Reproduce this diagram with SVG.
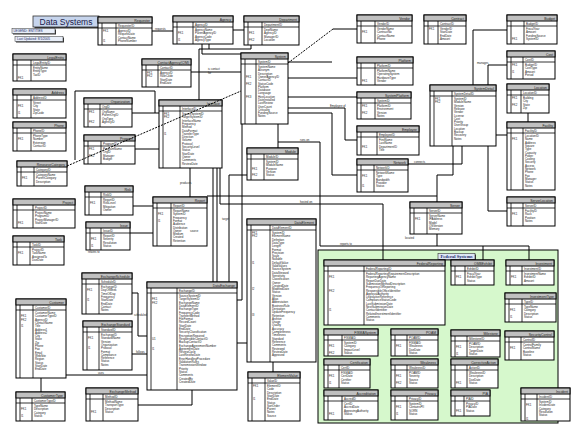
<svg xmlns="http://www.w3.org/2000/svg" width="581" height="436" viewBox="0 0 581 436">
<style>
.b{fill:#fff;stroke:#000;stroke-width:1}
.h{fill:#c0c0c0;stroke:#000;stroke-width:1}
.l{fill:none;stroke:#000;stroke-width:.8}
text{font-family:"Liberation Sans",Arial,sans-serif;fill:#222}
.tt{font-size:3.4px;text-anchor:end}
.a{font-size:2.9px}
.lb{font-size:2.8px}
.c path{fill:none;stroke:#000;stroke-width:1}
.c .d{stroke-dasharray:2 1.2}
</style>
<rect width="581" height="436" fill="#fff"/>
<g id="federal-systems">
<rect x="318" y="250" width="240" height="173" fill="#d6f8cc" stroke="#000" stroke-width="1"/>
<rect x="439" y="254.5" width="37" height="6" fill="#333"/>
<rect x="438" y="253.5" width="37" height="6" fill="#dde6f4" stroke="#333" stroke-width=".6"/>
<text x="456.5" y="258.4" style="font-family:'Liberation Serif',serif;font-size:4.6px;font-weight:bold;text-anchor:middle;fill:#1a2a6a">Federal Systems</text>
</g>
<g id="title">
<rect x="34.5" y="17.5" width="66" height="11" fill="#333"/>
<rect x="33" y="16" width="66" height="11" fill="#c6d4ec" stroke="#333" stroke-width=".8"/>
<text x="66" y="24.6" style="font-size:8.5px;text-anchor:middle;fill:#1a1a4a">Data Systems</text>
<rect x="13" y="29.5" width="43" height="5" fill="#333"/>
<rect x="12" y="28.5" width="43" height="5" fill="#e8eef8" stroke="#333" stroke-width=".5"/>
<text x="13.5" y="32.3" style="font-size:3.2px;fill:#1a2a6a">LEGEND:  ENTITIES</text>
<rect x="16" y="37.5" width="48" height="5" fill="#333"/>
<rect x="15" y="36.5" width="48" height="5" fill="#e8eef8" stroke="#333" stroke-width=".5"/>
<text x="17" y="40.3" style="font-size:3.2px;fill:#1a2a6a">Last Updated:  8/1/2005</text>
</g>

<g id="t1"><rect class="b" x="98" y="17" width="54" height="28"/><rect class="h" x="98" y="17" width="54" height="6"/><path class="l" d="M102 23V45M116 23V45M98 28H152"/><text class="tt" x="150" y="21.6">Requester</text><text class="a" x="118" y="26.6">RequesterID</text><text class="a" y="32"><tspan x="118">AgencyID</tspan><tspan x="118" dy="3.3">RequestDate</tspan><tspan x="118" dy="3.3">ContactName</tspan><tspan x="118" dy="3.3">PhoneNumber</tspan></text><text class="a" x="103" y="32">FK1</text><text class="a" x="103" y="42">I1</text></g>
<g id="t2"><rect class="b" x="173" y="16" width="60" height="28"/><rect class="h" x="173" y="16" width="60" height="6"/><path class="l" d="M177 22V44M193 22V44M173 27H233"/><text class="tt" x="231" y="20.6">Agency</text><text class="a" x="195" y="25.6">AgencyID</text><text class="a" y="31"><tspan x="195">AgencyName</tspan><tspan x="195" dy="3.3">ParentAgencyID</tspan><tspan x="195" dy="3.3">AgencyCode</tspan><tspan x="195" dy="3.3">AgencyType</tspan></text><text class="a" x="178" y="34.3">FK1</text><text class="a" x="178" y="41">I1</text></g>
<g id="t3"><rect class="b" x="244" y="16" width="55" height="29"/><rect class="h" x="244" y="16" width="55" height="6"/><path class="l" d="M248 22V45M262 22V45M244 27H299"/><text class="tt" x="297" y="20.6">Department</text><text class="a" x="264" y="25.6">DepartmentID</text><text class="a" y="31"><tspan x="264">DeptName</tspan><tspan x="264" dy="3.3">AgencyID</tspan><tspan x="264" dy="3.3">ManagerID</tspan><tspan x="264" dy="3.3">Location</tspan></text><text class="a" x="249" y="34.3">FK1</text><text class="a" x="249" y="41">FK2</text></g>
<g id="t4"><rect class="b" x="241" y="53" width="47" height="71"/><rect class="h" x="241" y="53" width="47" height="6"/><path class="l" d="M245 59V124M256 59V124M241 64H288"/><text class="tt" x="286" y="57.6">System</text><text class="a" x="258" y="62.6">SystemID</text><text class="a" y="68"><tspan x="258">SystemName</tspan><tspan x="258" dy="3.3">Acronym</tspan><tspan x="258" dy="3.3">Description</tspan><tspan x="258" dy="3.3">OwnerAgencyID</tspan><tspan x="258" dy="3.3">ContactID</tspan><tspan x="258" dy="3.3">StatusCode</tspan><tspan x="258" dy="3.3">Platform</tspan><tspan x="258" dy="3.3">Database</tspan><tspan x="258" dy="3.3">Language</tspan><tspan x="258" dy="3.3">HostLocation</tspan><tspan x="258" dy="3.3">DateInstalled</tspan><tspan x="258" dy="3.3">LastReview</tspan><tspan x="258" dy="3.3">UserCount</tspan><tspan x="258" dy="3.3">Criticality</tspan><tspan x="258" dy="3.3">FundingSource</tspan><tspan x="258" dy="3.3">Notes</tspan></text><text class="a" x="246" y="78">FK1</text><text class="a" x="246" y="84.6">FK2</text><text class="a" x="246" y="98">FK3</text></g>
<g id="t5"><rect class="b" x="142" y="59" width="49" height="28"/><rect class="h" x="142" y="59" width="49" height="6"/><path class="l" d="M146 65V87M158 65V87M142 70H191"/><text class="tt" x="189" y="63.6">ContactAgency(C/M)</text><text class="a" x="160" y="68.6">ContactID</text><text class="a" y="74"><tspan x="160">AgencyID</tspan><tspan x="160" dy="3.3">RoleCode</tspan><tspan x="160" dy="3.3">StartDate</tspan><tspan x="160" dy="3.3">EndDate</tspan></text><text class="a" x="147" y="74">FK1</text><text class="a" x="147" y="77.3">FK2</text></g>
<g id="t6"><rect class="b" x="159" y="100" width="63" height="68"/><rect class="h" x="159" y="100" width="63" height="6"/><path class="l" d="M163 106V168M180 106V168M159 111H222"/><text class="tt" x="220" y="104.6">Interface</text><text class="a" x="182" y="109.6">InterfaceID</text><text class="a" y="115"><tspan x="182">SourceSystemID</tspan><tspan x="182" dy="3.3">TargetSystemID</tspan><tspan x="182" dy="3.3">InterfaceName</tspan><tspan x="182" dy="3.3">Frequency</tspan><tspan x="182" dy="3.3">Method</tspan><tspan x="182" dy="3.3">DataFormat</tspan><tspan x="182" dy="3.3">TransferType</tspan><tspan x="182" dy="3.3">Direction</tspan><tspan x="182" dy="3.3">Volume</tspan><tspan x="182" dy="3.3">Protocol</tspan><tspan x="182" dy="3.3">SecurityLevel</tspan><tspan x="182" dy="3.3">Status</tspan><tspan x="182" dy="3.3">StartDate</tspan><tspan x="182" dy="3.3">Owner</tspan><tspan x="182" dy="3.3">Comments</tspan><tspan x="182" dy="3.3">ReviewDate</tspan></text><text class="a" x="164" y="115">FK1</text><text class="a" x="164" y="118.3">FK2</text><text class="a" x="164" y="135">I1</text></g>
<g id="t7"><rect class="b" x="357" y="15" width="55" height="28"/><rect class="h" x="357" y="15" width="55" height="6"/><path class="l" d="M361 21V43M375 21V43M357 26H412"/><text class="tt" x="410" y="19.6">Vendor</text><text class="a" x="377" y="24.6">VendorID</text><text class="a" y="30"><tspan x="377">VendorName</tspan><tspan x="377" dy="3.3">ContractNo</tspan><tspan x="377" dy="3.3">ContactName</tspan><tspan x="377" dy="3.3">Phone</tspan></text><text class="a" x="362" y="33.3">FK1</text></g>
<g id="t8"><rect class="b" x="424" y="15" width="42" height="29"/><rect class="h" x="424" y="15" width="42" height="6"/><path class="l" d="M428 21V44M438 21V44M424 26H466"/><text class="tt" x="464" y="19.6">Contract</text><text class="a" x="440" y="24.6">ContractID</text><text class="a" y="30"><tspan x="440">VendorID</tspan><tspan x="440" dy="3.3">StartDate</tspan><tspan x="440" dy="3.3">EndDate</tspan><tspan x="440" dy="3.3">Amount</tspan></text><text class="a" x="429" y="30">FK1</text></g>
<g id="t9"><rect class="b" x="357" y="57" width="56" height="28"/><rect class="h" x="357" y="57" width="56" height="6"/><path class="l" d="M361 63V85M375 63V85M357 68H413"/><text class="tt" x="411" y="61.6">Platform</text><text class="a" x="377" y="66.6">PlatformID</text><text class="a" y="72"><tspan x="377">PlatformName</tspan><tspan x="377" dy="3.3">OperatingSystem</tspan><tspan x="377" dy="3.3">HardwareType</tspan><tspan x="377" dy="3.3">Vendor</tspan></text><text class="a" x="362" y="82">FK1</text></g>
<g id="t10"><rect class="b" x="357" y="92" width="54" height="27"/><rect class="h" x="357" y="92" width="54" height="6"/><path class="l" d="M361 98V119M375 98V119M357 103H411"/><text class="tt" x="409" y="96.6">SystemPlatform</text><text class="a" x="377" y="101.6">SystemID</text><text class="a" y="107"><tspan x="377">PlatformID</tspan><tspan x="377" dy="3.3">Environment</tspan><tspan x="377" dy="3.3">Version</tspan><tspan x="377" dy="3.3">Notes</tspan></text><text class="a" x="362" y="107">FK1</text><text class="a" x="362" y="113.6">FK2</text></g>
<g id="t11"><rect class="b" x="357" y="126" width="62" height="29"/><rect class="h" x="357" y="126" width="62" height="6"/><path class="l" d="M361 132V155M377 132V155M357 137H419"/><text class="tt" x="417" y="130.6">Employee</text><text class="a" x="379" y="135.6">EmployeeID</text><text class="a" y="141"><tspan x="379">FirstName</tspan><tspan x="379" dy="3.3">LastName</tspan><tspan x="379" dy="3.3">DepartmentID</tspan><tspan x="379" dy="3.3">Title</tspan></text><text class="a" x="362" y="147.6">FK1</text></g>
<g id="t12"><rect class="b" x="430" y="85" width="66" height="61"/><rect class="h" x="430" y="85" width="66" height="6"/><path class="l" d="M434 91V146M452 91V146M430 96H496"/><text class="tt" x="494" y="89.6">SystemDetail</text><text class="a" x="454" y="94.6">SystemDetailID</text><text class="a" y="100"><tspan x="454">SystemID</tspan><tspan x="454" dy="3.3">ModuleName</tspan><tspan x="454" dy="3.3">Version</tspan><tspan x="454" dy="3.3">Release</tspan><tspan x="454" dy="3.3">Vendor</tspan><tspan x="454" dy="3.3">License</tspan><tspan x="454" dy="3.3">Cost</tspan><tspan x="454" dy="3.3">Priority</tspan><tspan x="454" dy="3.3">UserGroup</tspan><tspan x="454" dy="3.3">Location</tspan><tspan x="454" dy="3.3">Backup</tspan><tspan x="454" dy="3.3">Recovery</tspan><tspan x="454" dy="3.3">Notes</tspan></text><text class="a" x="435" y="100">FK1</text><text class="a" x="435" y="103.3">FK2</text></g>
<g id="t13"><rect class="b" x="507" y="15" width="50" height="29"/><rect class="h" x="507" y="15" width="50" height="6"/><path class="l" d="M511 21V44M524 21V44M507 26H557"/><text class="tt" x="555" y="19.6">Budget</text><text class="a" x="526" y="24.6">BudgetID</text><text class="a" y="30"><tspan x="526">FiscalYear</tspan><tspan x="526" dy="3.3">Amount</tspan><tspan x="526" dy="3.3">FundingSource</tspan><tspan x="526" dy="3.3">SystemID</tspan></text><text class="a" x="512" y="40">FK1</text></g>
<g id="t14"><rect class="b" x="507" y="51" width="48" height="28"/><rect class="h" x="507" y="51" width="48" height="6"/><path class="l" d="M511 57V79M523 57V79M507 62H555"/><text class="tt" x="553" y="55.6">Cost</text><text class="a" x="525" y="60.6">CostID</text><text class="a" y="66"><tspan x="525">BudgetID</tspan><tspan x="525" dy="3.3">CostType</tspan><tspan x="525" dy="3.3">Amount</tspan><tspan x="525" dy="3.3">Period</tspan></text><text class="a" x="512" y="66">FK1</text><text class="a" x="512" y="72.6">I1</text></g>
<g id="t15"><rect class="b" x="507" y="84" width="42" height="29"/><rect class="h" x="507" y="84" width="42" height="6"/><path class="l" d="M511 90V113M521 90V113M507 95H549"/><text class="tt" x="547" y="88.6">Location</text><text class="a" x="523" y="93.6">LocationID</text><text class="a" y="99"><tspan x="523">Building</tspan><tspan x="523" dy="3.3">City</tspan><tspan x="523" dy="3.3">State</tspan><tspan x="523" dy="3.3">Zip</tspan></text><text class="a" x="512" y="99">FK1</text><text class="a" x="512" y="105.6">FK2</text></g>
<g id="t16"><rect class="b" x="507" y="122" width="48" height="68"/><rect class="h" x="507" y="122" width="48" height="6"/><path class="l" d="M511 128V190M523 128V190M507 133H555"/><text class="tt" x="553" y="126.6">Facility</text><text class="a" x="525" y="131.6">FacilityID</text><text class="a" y="137"><tspan x="525">LocationID</tspan><tspan x="525" dy="3.3">Name</tspan><tspan x="525" dy="3.3">Address</tspan><tspan x="525" dy="3.3">Square</tspan><tspan x="525" dy="3.3">Type</tspan><tspan x="525" dy="3.3">Capacity</tspan><tspan x="525" dy="3.3">Power</tspan><tspan x="525" dy="3.3">Cooling</tspan><tspan x="525" dy="3.3">Security</tspan><tspan x="525" dy="3.3">Access</tspan><tspan x="525" dy="3.3">Network</tspan><tspan x="525" dy="3.3">Phone</tspan><tspan x="525" dy="3.3">Fax</tspan><tspan x="525" dy="3.3">Manager</tspan><tspan x="525" dy="3.3">Status</tspan><tspan x="525" dy="3.3">Notes</tspan></text><text class="a" x="512" y="140.3">FK1</text></g>
<g id="t17"><rect class="b" x="507" y="197" width="48" height="29"/><rect class="h" x="507" y="197" width="48" height="6"/><path class="l" d="M511 203V226M523 203V226M507 208H555"/><text class="tt" x="553" y="201.6">ServerLocation</text><text class="a" x="525" y="206.6">ServerID</text><text class="a" y="212"><tspan x="525">FacilityID</tspan><tspan x="525" dy="3.3">Rack</tspan><tspan x="525" dy="3.3">Position</tspan><tspan x="525" dy="3.3">Notes</tspan></text><text class="a" x="512" y="215.3">FK1</text></g>
<g id="t18"><rect class="b" x="410" y="202" width="52" height="32"/><rect class="h" x="410" y="202" width="52" height="6"/><path class="l" d="M414 208V234M427 208V234M410 213H462"/><text class="tt" x="460" y="206.6">Server</text><text class="a" x="429" y="211.6">ServerID</text><text class="a" y="217"><tspan x="429">ServerName</tspan><tspan x="429" dy="3.3">IPAddress</tspan><tspan x="429" dy="3.3">Model</tspan><tspan x="429" dy="3.3">OSVersion</tspan><tspan x="429" dy="3.3">Memory</tspan></text><text class="a" x="415" y="220.3">FK1</text></g>
<g id="t19"><rect class="b" x="357" y="159" width="51" height="33"/><rect class="h" x="357" y="159" width="51" height="6"/><path class="l" d="M361 165V192M374 165V192M357 170H408"/><text class="tt" x="406" y="163.6">Network</text><text class="a" x="376" y="168.6">NetworkID</text><text class="a" y="174"><tspan x="376">NetworkName</tspan><tspan x="376" dy="3.3">Type</tspan><tspan x="376" dy="3.3">Bandwidth</tspan><tspan x="376" dy="3.3">Provider</tspan><tspan x="376" dy="3.3">Status</tspan></text><text class="a" x="362" y="177.3">FK1</text><text class="a" x="362" y="187.2">I1</text></g>
<g id="t20"><rect class="b" x="247" y="148" width="51" height="32"/><rect class="h" x="247" y="148" width="51" height="6"/><path class="l" d="M251 154V180M264 154V180M247 159H298"/><text class="tt" x="296" y="152.6">Module</text><text class="a" x="266" y="157.6">ModuleID</text><text class="a" y="163"><tspan x="266">SystemID</tspan><tspan x="266" dy="3.3">ModuleName</tspan><tspan x="266" dy="3.3">Purpose</tspan><tspan x="266" dy="3.3">Version</tspan><tspan x="266" dy="3.3">Status</tspan></text><text class="a" x="252" y="169.6">FK1</text><text class="a" x="252" y="176.2">FK2</text></g>
<g id="t21"><rect class="b" x="153" y="197" width="54" height="49"/><rect class="h" x="153" y="197" width="54" height="6"/><path class="l" d="M157 203V246M171 203V246M153 208H207"/><text class="tt" x="205" y="201.6">Report</text><text class="a" x="173" y="206.6">ReportID</text><text class="a" y="212"><tspan x="173">ReportName</tspan><tspan x="173" dy="3.3">SystemID</tspan><tspan x="173" dy="3.3">Frequency</tspan><tspan x="173" dy="3.3">Format</tspan><tspan x="173" dy="3.3">Audience</tspan><tspan x="173" dy="3.3">Distribution</tspan><tspan x="173" dy="3.3">Owner</tspan><tspan x="173" dy="3.3">Medium</tspan><tspan x="173" dy="3.3">Created</tspan><tspan x="173" dy="3.3">Retention</tspan></text><text class="a" x="158" y="215.3">FK1</text><text class="a" x="158" y="222">I1</text></g>
<g id="t22"><rect class="b" x="247" y="219" width="69" height="143"/><rect class="h" x="247" y="219" width="69" height="6"/><path class="l" d="M251 225V362M270 225V362M247 230H316"/><text class="tt" x="314" y="223.6">DataElement</text><text class="a" x="272" y="228.6">DataElementID</text><text class="a" y="234"><tspan x="272">SystemID</tspan><tspan x="272" dy="3.3">ElementName</tspan><tspan x="272" dy="3.3">Definition</tspan><tspan x="272" dy="3.3">DataType</tspan><tspan x="272" dy="3.3">Length</tspan><tspan x="272" dy="3.3">Format</tspan><tspan x="272" dy="3.3">Precision</tspan><tspan x="272" dy="3.3">Scale</tspan><tspan x="272" dy="3.3">Nullable</tspan><tspan x="272" dy="3.3">DefaultValue</tspan><tspan x="272" dy="3.3">ValidValues</tspan><tspan x="272" dy="3.3">SourceSystem</tspan><tspan x="272" dy="3.3">DataSteward</tspan><tspan x="272" dy="3.3">Sensitivity</tspan><tspan x="272" dy="3.3">Classification</tspan><tspan x="272" dy="3.3">Owner</tspan><tspan x="272" dy="3.3">CreatedDate</tspan><tspan x="272" dy="3.3">ModifiedDate</tspan><tspan x="272" dy="3.3">Status</tspan><tspan x="272" dy="3.3">Version</tspan><tspan x="272" dy="3.3">Alias</tspan><tspan x="272" dy="3.3">Abbreviation</tspan><tspan x="272" dy="3.3">BusinessRule</tspan><tspan x="272" dy="3.3">Derivation</tspan><tspan x="272" dy="3.3">UpdateFrequency</tspan><tspan x="272" dy="3.3">Retention</tspan><tspan x="272" dy="3.3">Archive</tspan><tspan x="272" dy="3.3">Usage</tspan><tspan x="272" dy="3.3">Quality</tspan><tspan x="272" dy="3.3">Accuracy</tspan><tspan x="272" dy="3.3">Completeness</tspan><tspan x="272" dy="3.3">Timeliness</tspan><tspan x="272" dy="3.3">Standard</tspan><tspan x="272" dy="3.3">Reference</tspan><tspan x="272" dy="3.3">Comments</tspan><tspan x="272" dy="3.3">Reviewed</tspan><tspan x="272" dy="3.3">ReviewDate</tspan><tspan x="272" dy="3.3">Approved</tspan></text><text class="a" x="252" y="234">FK1</text><text class="a" x="252" y="237.3">FK2</text><text class="a" x="252" y="264">I1</text><text class="a" x="252" y="290">I2</text><text class="a" x="252" y="316">I3</text></g>
<g id="t23"><rect class="b" x="147" y="282" width="90" height="108"/><rect class="h" x="147" y="282" width="90" height="6"/><path class="l" d="M151 288V390M177 288V390M147 293H237"/><text class="tt" x="235" y="286.6">DataExchange</text><text class="a" x="179" y="291.6">ExchangeID</text><text class="a" y="297"><tspan x="179">SourceSystemID</tspan><tspan x="179" dy="3.3">TargetSystemID</tspan><tspan x="179" dy="3.3">ExchangeName</tspan><tspan x="179" dy="3.3">DataElementID</tspan><tspan x="179" dy="3.3">ExchangeType</tspan><tspan x="179" dy="3.3">FrequencyCode</tspan><tspan x="179" dy="3.3">TransferMethod</tspan><tspan x="179" dy="3.3">FileFormat</tspan><tspan x="179" dy="3.3">RecordCount</tspan><tspan x="179" dy="3.3">StartDate</tspan><tspan x="179" dy="3.3">EndDate</tspan><tspan x="179" dy="3.3">SecurityClassification</tspan><tspan x="179" dy="3.3">EncryptionRequired</tspan><tspan x="179" dy="3.3">ResponsibleContactID</tspan><tspan x="179" dy="3.3">BackupContactID</tspan><tspan x="179" dy="3.3">ExchangeAgreementNumber</tspan><tspan x="179" dy="3.3">AgreementDate</tspan><tspan x="179" dy="3.3">ReviewCycle</tspan><tspan x="179" dy="3.3">LastReviewDate</tspan><tspan x="179" dy="3.3">ErrorHandlingProcedure</tspan><tspan x="179" dy="3.3">ValidationRules</tspan><tspan x="179" dy="3.3">TransmissionWindow</tspan><tspan x="179" dy="3.3">Priority</tspan><tspan x="179" dy="3.3">Status</tspan><tspan x="179" dy="3.3">Comments</tspan><tspan x="179" dy="3.3">CreatedBy</tspan><tspan x="179" dy="3.3">CreatedDate</tspan></text><text class="a" x="152" y="300.3">FK1</text><text class="a" x="152" y="303.6">FK2</text><text class="a" x="152" y="340">U1</text><text class="a" x="152" y="350">I1</text></g>
<g id="t24"><rect class="b" x="248" y="372" width="52" height="49"/><rect class="h" x="248" y="372" width="52" height="6"/><path class="l" d="M252 378V421M265 378V421M248 383H300"/><text class="tt" x="298" y="376.6">ElementValue</text><text class="a" x="267" y="381.6">ValueID</text><text class="a" y="387"><tspan x="267">ElementID</tspan><tspan x="267" dy="3.3">Code</tspan><tspan x="267" dy="3.3">Description</tspan><tspan x="267" dy="3.3">StartDate</tspan><tspan x="267" dy="3.3">EndDate</tspan><tspan x="267" dy="3.3">Status</tspan><tspan x="267" dy="3.3">SortOrder</tspan><tspan x="267" dy="3.3">Parent</tspan><tspan x="267" dy="3.3">Notes</tspan><tspan x="267" dy="3.3">Source</tspan></text><text class="a" x="253" y="387">FK1</text><text class="a" x="253" y="400">I1</text></g>
<g id="t25"><rect class="b" x="13" y="54" width="53" height="27"/><rect class="h" x="13" y="54" width="53" height="6"/><path class="l" d="M17 60V81M31 60V81M13 65H66"/><text class="tt" x="64" y="58.6">LegalEntity</text><text class="a" x="33" y="63.6">LegalEntityID</text><text class="a" y="69"><tspan x="33">EntityName</tspan><tspan x="33" dy="3.3">EntityType</tspan><tspan x="33" dy="3.3">TaxID</tspan></text><text class="a" x="18" y="78.6">FK1</text></g>
<g id="t26"><rect class="b" x="13" y="89" width="53" height="29"/><rect class="h" x="13" y="89" width="53" height="6"/><path class="l" d="M17 95V118M31 95V118M13 100H66"/><text class="tt" x="64" y="93.6">Address</text><text class="a" x="33" y="98.6">AddressID</text><text class="a" y="104"><tspan x="33">Street</tspan><tspan x="33" dy="3.3">City</tspan><tspan x="33" dy="3.3">State</tspan><tspan x="33" dy="3.3">ZipCode</tspan></text><text class="a" x="18" y="107.3">FK1</text><text class="a" x="18" y="114">I1</text></g>
<g id="t27"><rect class="b" x="13" y="122" width="53" height="29"/><rect class="h" x="13" y="122" width="53" height="6"/><path class="l" d="M17 128V151M31 128V151M13 133H66"/><text class="tt" x="64" y="126.6">Phone</text><text class="a" x="33" y="131.6">PhoneID</text><text class="a" y="137"><tspan x="33">PhoneType</tspan><tspan x="33" dy="3.3">Number</tspan><tspan x="33" dy="3.3">Extension</tspan><tspan x="33" dy="3.3">ContactID</tspan></text><text class="a" x="18" y="140.3">FK1</text></g>
<g id="t28"><rect class="b" x="84" y="98" width="48" height="29"/><rect class="h" x="84" y="98" width="48" height="6"/><path class="l" d="M88 104V127M100 104V127M84 109H132"/><text class="tt" x="130" y="102.6">Organization</text><text class="a" x="102" y="107.6">OrgID</text><text class="a" y="113"><tspan x="102">OrgName</tspan><tspan x="102" dy="3.3">ParentOrgID</tspan><tspan x="102" dy="3.3">OrgType</tspan><tspan x="102" dy="3.3">AgencyID</tspan></text><text class="a" x="89" y="113">FK1</text><text class="a" x="89" y="123">FK2</text></g>
<g id="t29"><rect class="b" x="84" y="135" width="51" height="29"/><rect class="h" x="84" y="135" width="51" height="6"/><path class="l" d="M88 141V164M101 141V164M84 146H135"/><text class="tt" x="133" y="139.6">Program</text><text class="a" x="103" y="144.6">ProgramID</text><text class="a" y="150"><tspan x="103">ProgramName</tspan><tspan x="103" dy="3.3">OrgID</tspan><tspan x="103" dy="3.3">Manager</tspan><tspan x="103" dy="3.3">Budget</tspan></text><text class="a" x="89" y="150">FK1</text><text class="a" x="89" y="156.6">FK2</text></g>
<g id="t30"><rect class="b" x="17" y="161" width="50" height="25"/><rect class="h" x="17" y="161" width="50" height="6"/><path class="l" d="M21 167V186M34 167V186M17 172H67"/><text class="tt" x="65" y="165.6">ResourceCategory</text><text class="a" x="36" y="170.6">CategoryID</text><text class="a" y="176"><tspan x="36">CategoryName</tspan><tspan x="36" dy="3.3">ParentCategory</tspan><tspan x="36" dy="3.3">Description</tspan></text><text class="a" x="22" y="179.3">FK1</text></g>
<g id="t31"><rect class="b" x="13" y="199" width="62" height="29"/><rect class="h" x="13" y="199" width="62" height="6"/><path class="l" d="M17 205V228M33 205V228M13 210H75"/><text class="tt" x="73" y="203.6">Project</text><text class="a" x="35" y="208.6">ProjectID</text><text class="a" y="214"><tspan x="35">ProjectName</tspan><tspan x="35" dy="3.3">ProgramID</tspan><tspan x="35" dy="3.3">ProjectManagerID</tspan><tspan x="35" dy="3.3">StartDate</tspan></text><text class="a" x="18" y="224">FK1</text></g>
<g id="t32"><rect class="b" x="13" y="236" width="51" height="29"/><rect class="h" x="13" y="236" width="51" height="6"/><path class="l" d="M17 242V265M30 242V265M13 247H64"/><text class="tt" x="62" y="240.6">Task</text><text class="a" x="32" y="245.6">TaskID</text><text class="a" y="251"><tspan x="32">ProjectID</tspan><tspan x="32" dy="3.3">TaskName</tspan><tspan x="32" dy="3.3">AssignedTo</tspan><tspan x="32" dy="3.3">DueDate</tspan></text><text class="a" x="18" y="254.3">FK1</text></g>
<g id="t33"><rect class="b" x="85" y="186" width="48" height="29"/><rect class="h" x="85" y="186" width="48" height="6"/><path class="l" d="M89 192V215M101 192V215M85 197H133"/><text class="tt" x="131" y="190.6">Risk</text><text class="a" x="103" y="195.6">RiskID</text><text class="a" y="201"><tspan x="103">ReportID</tspan><tspan x="103" dy="3.3">RiskLevel</tspan><tspan x="103" dy="3.3">Mitigation</tspan><tspan x="103" dy="3.3">Owner</tspan></text><text class="a" x="90" y="204.3">FK1</text></g>
<g id="t34"><rect class="b" x="86" y="222" width="44" height="28"/><rect class="h" x="86" y="222" width="44" height="6"/><path class="l" d="M90 228V250M101 228V250M86 233H130"/><text class="tt" x="128" y="226.6">Issue</text><text class="a" x="103" y="231.6">IssueID</text><text class="a" y="237"><tspan x="103">ReportID</tspan><tspan x="103" dy="3.3">Severity</tspan><tspan x="103" dy="3.3">Resolution</tspan><tspan x="103" dy="3.3">Status</tspan></text><text class="a" x="91" y="240.3">FK1</text><text class="a" x="91" y="247">I1</text></g>
<g id="t35"><rect class="b" x="82" y="273" width="50" height="41"/><rect class="h" x="82" y="273" width="50" height="6"/><path class="l" d="M86 279V314M99 279V314M82 284H132"/><text class="tt" x="130" y="277.6">ExchangeSchedule</text><text class="a" x="101" y="282.6">ScheduleID</text><text class="a" y="288"><tspan x="101">ExchangeID</tspan><tspan x="101" dy="3.3">DayOfWeek</tspan><tspan x="101" dy="3.3">TimeOfDay</tspan><tspan x="101" dy="3.3">Frequency</tspan><tspan x="101" dy="3.3">StartDate</tspan><tspan x="101" dy="3.3">EndDate</tspan><tspan x="101" dy="3.3">Contact</tspan><tspan x="101" dy="3.3">Notes</tspan></text><text class="a" x="87" y="291.3">FK1</text><text class="a" x="87" y="301.2">I1</text></g>
<g id="t36"><rect class="b" x="83" y="321" width="49" height="49"/><rect class="h" x="83" y="321" width="49" height="6"/><path class="l" d="M87 327V370M99 327V370M83 332H132"/><text class="tt" x="130" y="325.6">ExchangeStandard</text><text class="a" x="101" y="330.6">StandardID</text><text class="a" y="336"><tspan x="101">ExchangeID</tspan><tspan x="101" dy="3.3">StandardName</tspan><tspan x="101" dy="3.3">Version</tspan><tspan x="101" dy="3.3">Organization</tspan><tspan x="101" dy="3.3">Protocol</tspan><tspan x="101" dy="3.3">Format</tspan><tspan x="101" dy="3.3">Compliance</tspan><tspan x="101" dy="3.3">Reference</tspan><tspan x="101" dy="3.3">Status</tspan><tspan x="101" dy="3.3">Notes</tspan></text><text class="a" x="88" y="339.3">FK1</text><text class="a" x="88" y="349.2">I1</text></g>
<g id="t37"><rect class="b" x="16" y="299" width="50" height="79"/><rect class="h" x="16" y="299" width="50" height="6"/><path class="l" d="M20 305V378M33 305V378M16 310H66"/><text class="tt" x="64" y="303.6">Customer</text><text class="a" x="35" y="308.6">CustomerID</text><text class="a" y="314"><tspan x="35">CustomerName</tspan><tspan x="35" dy="3.3">CustomerTypeID</tspan><tspan x="35" dy="3.3">AgencyID</tspan><tspan x="35" dy="3.3">ContactName</tspan><tspan x="35" dy="3.3">Title</tspan><tspan x="35" dy="3.3">Address1</tspan><tspan x="35" dy="3.3">Address2</tspan><tspan x="35" dy="3.3">City</tspan><tspan x="35" dy="3.3">State</tspan><tspan x="35" dy="3.3">Zip</tspan><tspan x="35" dy="3.3">Phone</tspan><tspan x="35" dy="3.3">Fax</tspan><tspan x="35" dy="3.3">Email</tspan><tspan x="35" dy="3.3">WebSite</tspan><tspan x="35" dy="3.3">Region</tspan><tspan x="35" dy="3.3">Status</tspan><tspan x="35" dy="3.3">StartDate</tspan><tspan x="35" dy="3.3">EndDate</tspan></text><text class="a" x="21" y="317.3">FK1</text><text class="a" x="21" y="320.6">FK2</text><text class="a" x="21" y="327.2">I1</text></g>
<g id="t38"><rect class="b" x="16" y="392" width="49" height="29"/><rect class="h" x="16" y="392" width="49" height="6"/><path class="l" d="M20 398V421M32 398V421M16 403H65"/><text class="tt" x="63" y="396.6">CustomerType</text><text class="a" x="34" y="401.6">CustomerTypeID</text><text class="a" y="407"><tspan x="34">TypeName</tspan><tspan x="34" dy="3.3">Description</tspan><tspan x="34" dy="3.3">Category</tspan><tspan x="34" dy="3.3">Status</tspan></text><text class="a" x="21" y="410.3">FK1</text><text class="a" x="21" y="416.9">I1</text></g>
<g id="t39"><rect class="b" x="86" y="388" width="52" height="33"/><rect class="h" x="86" y="388" width="52" height="6"/><path class="l" d="M90 394V421M103 394V421M86 399H138"/><text class="tt" x="136" y="392.6">ExchangeMethod</text><text class="a" x="105" y="397.6">MethodID</text><text class="a" y="403"><tspan x="105">MethodName</tspan><tspan x="105" dy="3.3">TransportType</tspan><tspan x="105" dy="3.3">Description</tspan><tspan x="105" dy="3.3">Status</tspan></text><text class="a" x="91" y="412.9">FK1</text></g>

<g id="g1"><rect class="b" x="324" y="260" width="121" height="65"/><rect class="h" x="324" y="260" width="121" height="6"/><path class="l" d="M328 266V325M364 266V325M324 271H445"/><text class="tt" x="443" y="264.6">FederalReporting</text><text class="a" x="366" y="269.6">FederalReportingID</text><text class="a" y="275"><tspan x="366">FederalReportingRequirementDescription</tspan><tspan x="366" dy="3.3">ReportingAgencyName</tspan><tspan x="366" dy="3.3">ReportDueDate</tspan><tspan x="366" dy="3.3">SubmissionMethodDescription</tspan><tspan x="366" dy="3.3">FrequencyOfReporting</tspan><tspan x="366" dy="3.3">ResponsibleOfficeIdentifier</tspan><tspan x="366" dy="3.3">ApprovalAuthority</tspan><tspan x="366" dy="3.3">LegislativeReference</tspan><tspan x="366" dy="3.3">ComplianceStatusCode</tspan><tspan x="366" dy="3.3">LastSubmissionDate</tspan><tspan x="366" dy="3.3">NextSubmissionDate</tspan><tspan x="366" dy="3.3">ContactIdentifier</tspan><tspan x="366" dy="3.3">RelatedInvestmentIdentifier</tspan><tspan x="366" dy="3.3">Comments</tspan><tspan x="366" dy="3.3">Status</tspan></text><text class="a" x="329" y="278.3">FK1</text><text class="a" x="329" y="291.5">FK2</text><text class="a" x="329" y="311.3">I1</text></g>
<g id="g2"><rect class="b" x="451" y="260" width="43" height="25"/><rect class="h" x="451" y="260" width="43" height="6"/><path class="l" d="M455 266V285M465 266V285M451 271H494"/><text class="tt" x="492" y="264.6">OMBExhibit</text><text class="a" x="467" y="269.6">ExhibitID</text><text class="a" y="275"><tspan x="467">FiscalYear</tspan><tspan x="467" dy="3.3">ExhibitType</tspan><tspan x="467" dy="3.3">Status</tspan></text><text class="a" x="456" y="278.3">FK1</text></g>
<g id="g3"><rect class="b" x="506" y="260" width="48" height="25"/><rect class="h" x="506" y="260" width="48" height="6"/><path class="l" d="M510 266V285M522 266V285M506 271H554"/><text class="tt" x="552" y="264.6">Investment</text><text class="a" x="524" y="269.6">InvestmentID</text><text class="a" y="275"><tspan x="524">InvestmentName</tspan><tspan x="524" dy="3.3">ExhibitID</tspan><tspan x="524" dy="3.3">Amount</tspan></text><text class="a" x="511" y="278.3">FK1</text></g>
<g id="g4"><rect class="b" x="505" y="293" width="51" height="29"/><rect class="h" x="505" y="293" width="51" height="6"/><path class="l" d="M509 299V322M522 299V322M505 304H556"/><text class="tt" x="554" y="297.6">InvestmentType</text><text class="a" x="524" y="302.6">TypeID</text><text class="a" y="308"><tspan x="524">TypeName</tspan><tspan x="524" dy="3.3">Category</tspan><tspan x="524" dy="3.3">Description</tspan><tspan x="524" dy="3.3">Status</tspan></text><text class="a" x="510" y="311.3">FK1</text><text class="a" x="510" y="317.9">I1</text></g>
<g id="g5"><rect class="b" x="324" y="329" width="54" height="27"/><rect class="h" x="324" y="329" width="54" height="6"/><path class="l" d="M328 335V356M342 335V356M324 340H378"/><text class="tt" x="376" y="333.6">FISMASystem</text><text class="a" x="344" y="338.6">FISMAID</text><text class="a" y="344"><tspan x="344">SystemID</tspan><tspan x="344" dy="3.3">Category</tspan><tspan x="344" dy="3.3">ImpactLevel</tspan><tspan x="344" dy="3.3">Status</tspan></text><text class="a" x="329" y="347.3">FK1</text><text class="a" x="329" y="353.9">FK2</text></g>
<g id="g6"><rect class="b" x="391" y="329" width="47" height="27"/><rect class="h" x="391" y="329" width="47" height="6"/><path class="l" d="M395 335V356M407 335V356M391 340H438"/><text class="tt" x="436" y="333.6">POAM</text><text class="a" x="409" y="338.6">POAMID</text><text class="a" y="344"><tspan x="409">FISMAID</tspan><tspan x="409" dy="3.3">Weakness</tspan><tspan x="409" dy="3.3">DueDate</tspan><tspan x="409" dy="3.3">Status</tspan></text><text class="a" x="396" y="347.3">FK1</text></g>
<g id="g7"><rect class="b" x="451" y="330" width="49" height="27"/><rect class="h" x="451" y="330" width="49" height="6"/><path class="l" d="M455 336V357M467 336V357M451 341H500"/><text class="tt" x="498" y="334.6">Milestone</text><text class="a" x="469" y="339.6">MilestoneID</text><text class="a" y="345"><tspan x="469">POAMID</tspan><tspan x="469" dy="3.3">Description</tspan><tspan x="469" dy="3.3">TargetDate</tspan><tspan x="469" dy="3.3">Status</tspan></text><text class="a" x="456" y="348.3">FK1</text><text class="a" x="456" y="354.9">I1</text></g>
<g id="g8"><rect class="b" x="505" y="331" width="49" height="29"/><rect class="h" x="505" y="331" width="49" height="6"/><path class="l" d="M509 337V360M521 337V360M505 342H554"/><text class="tt" x="552" y="335.6">SecurityControl</text><text class="a" x="523" y="340.6">ControlID</text><text class="a" y="346"><tspan x="523">ControlFamily</tspan><tspan x="523" dy="3.3">ControlName</tspan><tspan x="523" dy="3.3">Baseline</tspan><tspan x="523" dy="3.3">Status</tspan></text><text class="a" x="510" y="349.3">FK1</text></g>
<g id="g9"><rect class="b" x="324" y="359" width="46" height="29"/><rect class="h" x="324" y="359" width="46" height="6"/><path class="l" d="M328 365V388M339 365V388M324 370H370"/><text class="tt" x="368" y="363.6">Certification</text><text class="a" x="341" y="368.6">CertID</text><text class="a" y="374"><tspan x="341">FISMAID</tspan><tspan x="341" dy="3.3">CertDate</tspan><tspan x="341" dy="3.3">Certifier</tspan><tspan x="341" dy="3.3">Status</tspan></text><text class="a" x="329" y="377.3">FK1</text><text class="a" x="329" y="383.9">I1</text></g>
<g id="g10"><rect class="b" x="391" y="359" width="47" height="29"/><rect class="h" x="391" y="359" width="47" height="6"/><path class="l" d="M395 365V388M407 365V388M391 370H438"/><text class="tt" x="436" y="363.6">Weakness</text><text class="a" x="409" y="368.6">WeaknessID</text><text class="a" y="374"><tspan x="409">POAMID</tspan><tspan x="409" dy="3.3">Severity</tspan><tspan x="409" dy="3.3">Source</tspan><tspan x="409" dy="3.3">Status</tspan></text><text class="a" x="396" y="377.3">FK1</text><text class="a" x="396" y="383.9">FK2</text></g>
<g id="g11"><rect class="b" x="451" y="359" width="47" height="29"/><rect class="h" x="451" y="359" width="47" height="6"/><path class="l" d="M455 365V388M467 365V388M451 370H498"/><text class="tt" x="496" y="363.6">CorrectiveAction</text><text class="a" x="469" y="368.6">ActionID</text><text class="a" y="374"><tspan x="469">WeaknessID</tspan><tspan x="469" dy="3.3">Description</tspan><tspan x="469" dy="3.3">DueDate</tspan><tspan x="469" dy="3.3">Status</tspan></text><text class="a" x="456" y="383.9">FK1</text></g>
<g id="g12"><rect class="b" x="324" y="390" width="54" height="30"/><rect class="h" x="324" y="390" width="54" height="6"/><path class="l" d="M328 396V420M342 396V420M324 401H378"/><text class="tt" x="376" y="394.6">Accreditation</text><text class="a" x="344" y="399.6">AccredID</text><text class="a" y="405"><tspan x="344">CertID</tspan><tspan x="344" dy="3.3">AccredDate</tspan><tspan x="344" dy="3.3">ApprovingAuthority</tspan><tspan x="344" dy="3.3">Status</tspan></text><text class="a" x="329" y="414.9">FK1</text></g>
<g id="g13"><rect class="b" x="391" y="390" width="47" height="30"/><rect class="h" x="391" y="390" width="47" height="6"/><path class="l" d="M395 396V420M407 396V420M391 401H438"/><text class="tt" x="436" y="394.6">Privacy</text><text class="a" x="409" y="399.6">PrivacyID</text><text class="a" y="405"><tspan x="409">SystemID</tspan><tspan x="409" dy="3.3">ContainsPII</tspan><tspan x="409" dy="3.3">SORN</tspan><tspan x="409" dy="3.3">Status</tspan></text><text class="a" x="396" y="408.3">FK1</text><text class="a" x="396" y="414.9">I1</text></g>
<g id="g14"><rect class="b" x="451" y="390" width="39" height="26"/><rect class="h" x="451" y="390" width="39" height="6"/><path class="l" d="M455 396V416M464 396V416M451 401H490"/><text class="tt" x="488" y="394.6">PIA</text><text class="a" x="466" y="399.6">PIAID</text><text class="a" y="405"><tspan x="466">PrivacyID</tspan><tspan x="466" dy="3.3">PIADate</tspan><tspan x="466" dy="3.3">Status</tspan></text><text class="a" x="456" y="411.6">FK1</text></g>
<g id="g15"><rect class="b" x="521" y="388" width="49" height="33"/><rect class="h" x="521" y="388" width="49" height="6"/><path class="l" d="M525 394V421M537 394V421M521 399H570"/><text class="tt" x="568" y="392.6">Incident</text><text class="a" x="539" y="397.6">IncidentID</text><text class="a" y="403"><tspan x="539">SystemID</tspan><tspan x="539" dy="3.3">IncidentDate</tspan><tspan x="539" dy="3.3">Category</tspan><tspan x="539" dy="3.3">Resolution</tspan><tspan x="539" dy="3.3">Status</tspan></text><text class="a" x="526" y="406.3">FK1</text><text class="a" x="526" y="419.5">I1</text></g>

<g id="connectors" class="c">
<path d="M152 31H173"/>
<path d="M233 30H244"/>
<path d="M202 44V54H241"/>
<path d="M199 100V49H251V45M209 44V49"/>
<path d="M191 72H241"/>
<path class="d" d="M288 63L333 29"/>
<path d="M333 29H357"/>
<path d="M288 62H332"/>
<path d="M288 78H357"/>
<path d="M288 97H357"/>
<path d="M288 108H345V140H357"/>
<path d="M288 113H332V175H357"/>
<path class="d" d="M67 166L241 91"/>
<path d="M75 160V91H155V113"/>
<path d="M132 113H159"/>
<path d="M135 149H159"/>
<path d="M190 168V197"/>
<path d="M213 168V282M217 168V282"/>
<path d="M220 168V204H383V260"/>
<path d="M133 206H153"/>
<path d="M130 233H153"/>
<path d="M207 196H437V202"/>
<path d="M453 146V175H437V196"/>
<path d="M408 164H462V146"/>
<path d="M488 146V211H507"/>
<path d="M247 175H229V282"/>
<path d="M242 124V300H237"/>
<path d="M278 124V148M278 142H320V246H529V260M483 246V260M437 234V246"/>
<path d="M473 85V30H507"/>
<path d="M488 85V65H507"/>
<path d="M496 135H507"/>
<path d="M528 113V122"/>
<path d="M132 293H138V336H147"/>
<path d="M132 354H147"/>
<path d="M66 375H147"/>
<path d="M41 378V392"/>
<path d="M138 405H192V390"/>
<path d="M237 343H247"/>
<path d="M273 362V372"/>
</g>
<g id="labels">
<text class="lb" x="155" y="29.5">requests</text>
<text class="lb" x="208" y="70">is contact</text>
<text class="lb" x="208" y="74">for</text>
<text class="lb" x="330" y="106.5">Employee of</text>
<text class="lb" x="300" y="140.5">runs on</text>
<text class="lb" x="180" y="184">produces</text>
<text class="lb" x="190" y="232">source</text>
<text class="lb" x="222" y="220">target</text>
<text class="lb" x="300" y="202.5">hosted on</text>
<text class="lb" x="340" y="244.5">reports to</text>
<text class="lb" x="405" y="239">located</text>
<text class="lb" x="477" y="63.5">manages</text>
<text class="lb" x="98" y="373.5">uses</text>
<text class="lb" x="136" y="352.5">follows</text>
<text class="lb" x="134" y="316">scheduled</text>
<text class="lb" x="414" y="162.5">connects</text>
<text class="lb" x="88" y="253">relates to</text>
</g>
</svg>
